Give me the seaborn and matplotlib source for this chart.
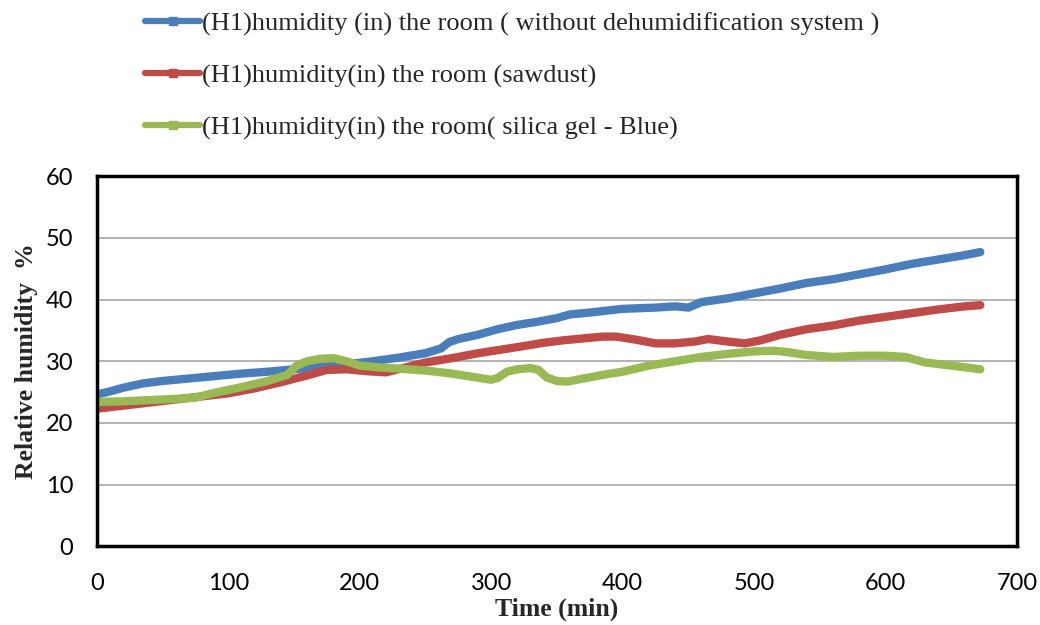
import matplotlib
matplotlib.use("Agg")
import matplotlib.pyplot as plt
from matplotlib.lines import Line2D
import seaborn as sns
import pandas as pd

# ---- data ----
series_names = [
    "(H1)humidity (in) the room ( without dehumidification system )",
    "(H1)humidity(in) the room (sawdust)",
    "(H1)humidity(in) the room( silica gel - Blue)",
]
colors = ["#4A7EBB", "#BE4B48", "#98B954"]

blue_t = [0, 10, 20, 35, 50, 70, 90, 110, 130, 150, 170, 190, 210, 230, 250, 262, 268, 275,
          290, 305, 320, 335, 350, 360, 375, 400, 425, 440, 450, 460, 480, 500, 520, 540,
          560, 580, 600, 620, 640, 660, 672]
blue_v = [24.6, 25.1, 25.7, 26.4, 26.8, 27.2, 27.6, 28.0, 28.3, 28.7, 29.1, 29.5, 30.0, 30.6,
          31.3, 32.1, 33.1, 33.6, 34.3, 35.2, 35.9, 36.4, 37.0, 37.6, 37.9, 38.5, 38.7, 38.9,
          38.7, 39.6, 40.2, 41.0, 41.8, 42.7, 43.3, 44.1, 44.9, 45.8, 46.5, 47.2, 47.7]

red_t = [0, 20, 40, 60, 80, 100, 120, 140, 160, 175, 190, 205, 220, 235, 250, 270, 290, 305,
         320, 340, 355, 370, 385, 395, 410, 425, 440, 455, 465, 480, 493, 505, 520, 540, 560,
         580, 600, 620, 640, 660, 672]
red_v = [22.3, 22.8, 23.3, 23.8, 24.3, 24.8, 25.6, 26.6, 27.7, 28.6, 28.7, 28.4, 28.2, 29.0,
         29.8, 30.5, 31.3, 31.8, 32.3, 33.0, 33.4, 33.7, 34.0, 34.0, 33.5, 32.9, 32.9, 33.2,
         33.6, 33.2, 32.9, 33.4, 34.3, 35.2, 35.8, 36.6, 37.2, 37.8, 38.4, 38.9, 39.1]

green_t = [0, 20, 40, 60, 75, 90, 110, 130, 145, 152, 160, 170, 180, 190, 200, 215, 230, 250,
           270, 285, 300, 305, 312, 320, 330, 336, 342, 350, 358, 370, 385, 400, 420, 440, 460,
           480, 500, 515, 525, 540, 560, 580, 600, 615, 630, 650, 672]
green_v = [23.4, 23.5, 23.7, 23.9, 24.1, 24.9, 25.8, 26.8, 27.8, 29.3, 30.0, 30.4, 30.5, 30.0,
           29.3, 29.0, 28.8, 28.5, 28.0, 27.5, 27.0, 27.3, 28.3, 28.7, 28.9, 28.6, 27.4, 26.8,
           26.7, 27.2, 27.8, 28.3, 29.3, 30.0, 30.7, 31.2, 31.6, 31.7, 31.5, 31.0, 30.7, 30.9,
           30.9, 30.7, 29.8, 29.3, 28.7]

x_ticks = [0, 100, 200, 300, 400, 500, 600, 700]
y_ticks = [0, 10, 20, 30, 40, 50, 60]

# ---- build long table ----
frames = []
for name, t, v in zip(series_names, [blue_t, red_t, green_t], [blue_v, red_v, green_v]):
    frames.append(pd.DataFrame({"t": t, "rh": v, "series": name}))
df = pd.concat(frames, ignore_index=True)

sns.set_theme(style="white")
fig = plt.figure(figsize=(10.4, 6.25), dpi=100)
ax = fig.add_axes([0.093, 0.126, 0.885, 0.592])

ax.yaxis.grid(True, color="#A6A6A6", linewidth=1.2)
ax.set_axisbelow(True)

sns.lineplot(data=df, x="t", y="rh", hue="series", palette=colors, hue_order=series_names,
             linewidth=6, legend=False, ax=ax, sort=True, estimator=None)

ax.set_xlim(0, 700)
ax.set_ylim(0, 60)
ax.set_xticks(x_ticks)
ax.set_yticks(y_ticks)
ax.set_xticklabels([str(v) for v in x_ticks], fontfamily="Lato", fontsize=17)
ax.set_yticklabels([str(v) for v in y_ticks], fontfamily="Lato", fontsize=17)
ax.tick_params(axis="y", length=0, pad=17, colors="#000000")
ax.tick_params(axis="x", length=0, pad=19, colors="#000000")
for s in ax.spines.values():
    s.set_color("black")
    s.set_linewidth(2.5)

ax.set_xlabel("Time (min)", fontfamily="Liberation Serif", fontweight="bold", fontsize=18.5,
              labelpad=3)
ax.set_ylabel("Relative humidity  %", fontfamily="Liberation Serif", fontweight="bold",
              fontsize=18.5)
ax.yaxis.set_label_coords(-0.064, 0.5)

handles = [Line2D([0], [0], color=c, linewidth=4.5, marker="s", markersize=6) for c in colors]
fig.legend(handles, series_names, loc="upper left", bbox_to_anchor=(0.124, 1.006),
           frameon=False, prop={"family": "Liberation Serif", "size": 19},
           handlelength=2.1, handletextpad=0.05, labelspacing=1.06, borderaxespad=0.2)

fig.savefig("out.png", dpi=100)
